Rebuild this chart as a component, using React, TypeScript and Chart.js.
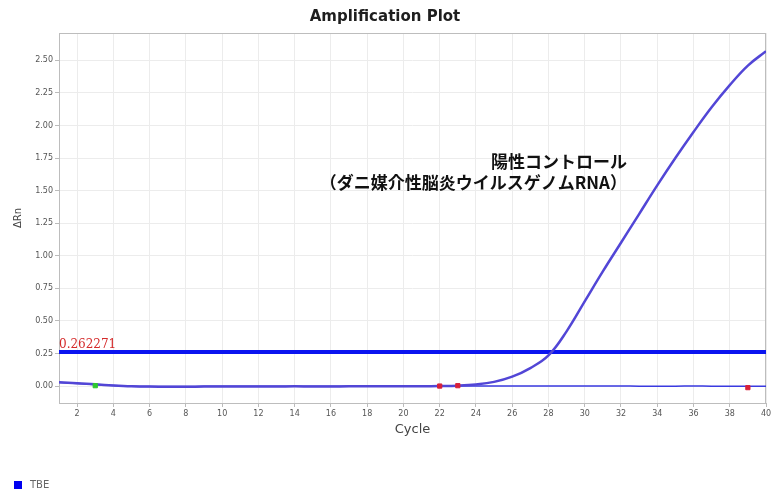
import React, { useEffect, useRef } from 'react';
import { Chart, registerables } from 'chart.js';

Chart.register(...registerables);

const cycles = [1, 2, 3, 4, 5, 6, 7, 8, 9, 10, 11, 12, 13, 14, 15, 16, 17, 18, 19, 20, 21, 22, 23, 24, 25, 26, 27, 28, 29, 30, 31, 32, 33, 34, 35, 36, 37, 38, 39, 40];
const positiveDeltaRn = [0.03, 0.022, 0.013, 0.005, -0.001, -0.004, -0.005, -0.005, -0.004, -0.004, -0.003, -0.003, -0.003, -0.002, -0.003, -0.003, -0.002, -0.002, -0.002, -0.001, -0.001, 0.0, 0.003, 0.012, 0.032, 0.072, 0.138, 0.235, 0.42, 0.65, 0.88, 1.1, 1.32, 1.54, 1.75, 1.95, 2.14, 2.31, 2.46, 2.57];
const ntcDeltaRn = [0.028, 0.02, 0.011, 0.004, -0.001, -0.003, -0.003, -0.003, -0.002, -0.002, -0.001, -0.002, -0.002, -0.001, -0.001, -0.002, -0.001, -0.001, 0.0, 0.0, 0.0, 0.001, 0.001, 0.001, 0.0, 0.001, 0.001, 0.0, 0.0, 0.001, 0.0, 0.0, -0.001, -0.002, -0.001, 0.0, -0.001, -0.001, -0.002, -0.002];
const thresholdValue = 0.262271;
const thresholdCycles = [1, 40];
const baselineStartCycles = [3];
const baselineStartValues = [0.003];
const baselineEndCycles = [22, 23, 39];
const baselineEndValues = [0.0, 0.003, -0.012];
const xTickValues = [2, 4, 6, 8, 10, 12, 14, 16, 18, 20, 22, 24, 26, 28, 30, 32, 34, 36, 38, 40];
const yTickValues = [0, 0.25, 0.5, 0.75, 1.0, 1.25, 1.5, 1.75, 2.0, 2.25, 2.5];
const titleText = 'Amplification Plot';
const xAxisTitle = 'Cycle';
const yAxisTitle = 'ΔRn';
const legendLabel = 'TBE';
const annotationLine1 = '陽性コントロール';
const annotationLine2 = '（ダニ媒介性脳炎ウイルスゲノムRNA）';

const decorPlugin = {
  id: 'decor',
  beforeDatasetsDraw(chart: any) {
    const { ctx, chartArea } = chart;
    ctx.save();
    ctx.strokeStyle = '#bdbdbd';
    ctx.lineWidth = 1;
    ctx.strokeRect(Math.round(chartArea.left) + 0.5, Math.round(chartArea.top) + 0.5, Math.round(chartArea.right - chartArea.left) - 1, Math.round(chartArea.bottom - chartArea.top));
    ctx.restore();
  },
  afterDraw(chart: any) {
    const { ctx, chartArea, scales } = chart;
    ctx.save();
    ctx.fillStyle = '#1e1e1e';
    ctx.font = 'bold 15px "DejaVu Sans"';
    ctx.textAlign = 'center';
    ctx.textBaseline = 'middle';
    ctx.fillText(titleText, 385, 17);
    ctx.fillStyle = '#444';
    ctx.font = '13px "DejaVu Sans"';
    ctx.fillText(xAxisTitle, (chartArea.left + chartArea.right) / 2, 430);
    ctx.save();
    ctx.translate(18, (chartArea.top + chartArea.bottom) / 2);
    ctx.rotate(-Math.PI / 2);
    ctx.font = '10px "DejaVu Sans"';
    ctx.fillText(yAxisTitle, 0, 0);
    ctx.restore();
    const ty = scales.y.getPixelForValue(thresholdValue);
    ctx.fillStyle = '#d42a2a';
    ctx.font = '12px "DejaVu Serif"';
    ctx.textAlign = 'left';
    ctx.textBaseline = 'alphabetic';
    ctx.fillText(String(thresholdValue), chartArea.left, ty - 4);
    ctx.fillStyle = '#111';
    ctx.font = 'bold 17px "Noto Sans CJK JP"';
    ctx.textAlign = 'right';
    ctx.textBaseline = 'middle';
    ctx.fillText(annotationLine1, 627, 162);
    ctx.fillText(annotationLine2, 627, 183);
    ctx.fillStyle = '#0000f0';
    ctx.fillRect(14, 481, 8, 8);
    ctx.fillStyle = '#666';
    ctx.font = '10px "DejaVu Sans"';
    ctx.textAlign = 'left';
    ctx.fillText(legendLabel, 30, 485.5);
    ctx.restore();
  },
};

export default function App() {
  const ref = useRef<HTMLCanvasElement | null>(null);
  useEffect(() => {
    if (!ref.current) return;
    const chart = new Chart(ref.current, {
      type: 'line',
      data: {
        datasets: [
          {
            label: 'Threshold',
            data: thresholdCycles.map((c) => ({ x: c, y: thresholdValue })),
            borderColor: '#0a14f0',
            borderWidth: 4,
            pointRadius: 0,
            order: 3,
          },
          {
            label: 'NTC',
            data: cycles.map((c, i) => ({ x: c, y: ntcDeltaRn[i] })),
            borderColor: '#3a3ae0',
            borderWidth: 1.5,
            pointRadius: 0,
            tension: 0.4,
            order: 2,
          },
          {
            label: legendLabel,
            data: cycles.map((c, i) => ({ x: c, y: positiveDeltaRn[i] })),
            borderColor: '#5246d6',
            borderWidth: 2.5,
            pointRadius: 0,
            tension: 0.4,
            order: 1,
          },
          {
            type: 'scatter',
            label: 'Baseline start',
            data: baselineStartCycles.map((c, i) => ({ x: c, y: baselineStartValues[i] })),
            backgroundColor: '#2ec82e',
            borderColor: '#2ec82e',
            pointStyle: 'rect',
            pointRadius: 3,
            order: 0,
          },
          {
            type: 'scatter',
            label: 'Baseline end',
            data: baselineEndCycles.map((c, i) => ({ x: c, y: baselineEndValues[i] })),
            backgroundColor: '#d8203a',
            borderColor: '#d8203a',
            pointStyle: 'rect',
            pointRadius: 3,
            order: 0,
          },
        ] as any,
      },
      options: {
        animation: false,
        responsive: false,
        layout: { padding: { top: 33, right: 4, left: 0, bottom: 0 } },
        plugins: { legend: { display: false }, title: { display: false }, tooltip: { enabled: false } },
        scales: {
          x: {
            type: 'linear',
            min: 1,
            max: 40,
            afterBuildTicks: (s: any) => {
              s.ticks = xTickValues.map((v) => ({ value: v }));
            },
            afterFit: (s: any) => {
              s.height = 91;
              s.paddingLeft = 0;
              s.paddingRight = 0;
            },
            grid: { color: '#ececec', tickLength: 4, tickColor: '#bbb' },
            border: { display: false },
            ticks: {
              autoSkip: false,
              maxRotation: 0,
              padding: 2,
              color: '#555',
              font: { family: 'DejaVu Sans', size: 8 },
            },
          },
          y: {
            type: 'linear',
            min: -0.13,
            max: 2.71,
            afterBuildTicks: (s: any) => {
              s.ticks = yTickValues.map((v) => ({ value: v }));
            },
            afterFit: (s: any) => {
              s.width = 59;
              s.paddingTop = 0;
              s.paddingBottom = 0;
            },
            grid: { color: '#ececec', tickLength: 4, tickColor: '#bbb' },
            border: { display: false },
            ticks: {
              padding: 2,
              color: '#555',
              font: { family: 'DejaVu Sans', size: 8 },
              callback: (v: any) => Number(v).toFixed(2),
            },
          },
        },
      },
      plugins: [decorPlugin],
    });
    return () => chart.destroy();
  }, []);
  return (
    <div style={{ position: 'absolute', left: 0, top: 0, width: 771, height: 494, background: '#fff' }}>
      <canvas ref={ref} width={771} height={494} style={{ display: 'block' }} />
    </div>
  );
}
